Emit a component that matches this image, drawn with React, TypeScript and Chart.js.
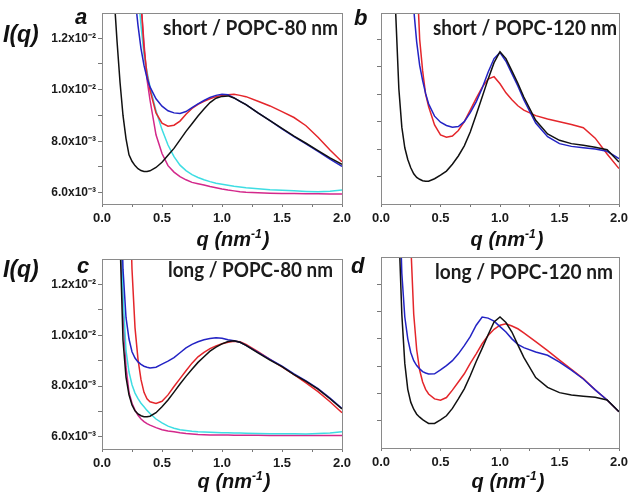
import React, { useEffect, useRef } from "react";
import { Chart, registerables } from "chart.js";

Chart.register(...registerables);

// scattering vector q (nm^-1)
const qValues = [
  0.1, 0.125, 0.15, 0.175, 0.2, 0.225, 0.25, 0.275, 0.3, 0.325, 0.35, 0.375, 0.4,
  0.45, 0.5, 0.55, 0.6, 0.65, 0.7, 0.75, 0.8, 0.85, 0.9, 0.95, 1.0, 1.05, 1.1, 1.15,
  1.2, 1.3, 1.4, 1.5, 1.6, 1.7, 1.8, 1.9, 2.0,
];

// I(q) in units of 10^-3 (null = no data shown)
// panel a: short / POPC-80 nm
const aBlack = [13.7, 11.9, 10.3, 9.0, 8.1, 7.47, 7.22, 7.05, 6.93, 6.86, 6.82, 6.82, 6.85,
  6.98, 7.18, 7.45, 7.72, 8.05, 8.38, 8.68, 8.98, 9.25, 9.5, 9.67, 9.74, 9.76, 9.68, 9.55,
  9.42, 9.1, 8.8, 8.5, 8.2, 7.92, 7.63, 7.35, 7.1];
const aBlue = [null, null, null, null, null, null, 15.5, 13.6, 12.5, 11.6, 10.95, 10.45, 10.11,
  9.65, 9.36, 9.18, 9.1, 9.08, 9.15, 9.3, 9.45, 9.58, 9.7, 9.78, 9.82, 9.8, 9.68, 9.55,
  9.42, 9.1, 8.8, 8.48, 8.18, 7.9, 7.6, 7.3, 7.02];
const aRed = [null, null, null, null, null, null, null, null, 15.5, 13.4, 11.6, 10.6, 9.99,
  9.1, 8.7, 8.58, 8.62, 8.78, 9.05, 9.27, 9.43, 9.55, 9.65, 9.73, 9.78, 9.8, 9.82, 9.78,
  9.73, 9.55, 9.37, 9.15, 8.92, 8.6, 8.15, 7.66, 7.2];
const aCyan = [null, null, null, null, null, null, null, 15.5, 13.8, 12.5, 11.35, 10.7, 10.11,
  9.18, 8.45, 7.85, 7.4, 7.07, 6.86, 6.7, 6.59, 6.5, 6.43, 6.37, 6.33, 6.29, 6.25, 6.22,
  6.19, 6.15, 6.11, 6.09, 6.07, 6.05, 6.04, 6.06, 6.1];
const aMagenta = [null, null, null, null, null, null, null, null, 15.0, 13.4, 11.8, 10.4, 9.6,
  8.25, 7.52, 7.05, 6.8, 6.62, 6.5, 6.4, 6.35, 6.3, 6.24, 6.19, 6.14, 6.1, 6.07, 6.04,
  6.02, 6.0, 5.98, 5.97, 5.97, 5.96, 5.96, 5.95, 5.95];

// panel b: short / POPC-120 nm
const bBlack = [15.5, 12.8, 10.2, 8.8, 8.05, 7.62, 7.32, 7.1, 6.97, 6.9, 6.85, 6.83, 6.83,
  6.92, 7.05, 7.2, 7.45, 7.75, 8.12, 8.62, 9.25, 9.9, 10.55, 11.15, 11.55, 11.3, 10.85, 10.4,
  9.9, 9.05, 8.55, 8.32, 8.2, 8.14, 8.07, 7.98, 7.53];
const bBlue = [null, null, null, null, null, null, 15.0, 13.1, 11.9, 11.05, 10.5, 10.02, 9.65,
  9.2, 8.98, 8.86, 8.8, 8.82, 9.0, 9.33, 9.72, 10.22, 10.8, 11.3, 11.52, 11.2, 10.75, 10.3,
  9.8, 8.95, 8.45, 8.2, 8.1, 8.05, 8.0, 7.92, 7.65];
const bRed = [null, null, null, null, null, null, null, null, 14.5, 12.0, 10.85, 10.0, 9.55,
  8.88, 8.52, 8.43, 8.48, 8.68, 9.0, 9.42, 9.85, 10.25, 10.55, 10.64, 10.38, 10.05, 9.8, 9.58,
  9.42, 9.22, 9.1, 9.0, 8.9, 8.78, 8.4, 7.82, 7.29];

// panel c: long / POPC-80 nm
const cBlack = [null, 18, 13.8, 9.8, 8.35, 7.65, 7.25, 7.02, 6.9, 6.83, 6.79, 6.79, 6.81,
  6.95, 7.18, 7.45, 7.76, 8.08, 8.38, 8.66, 8.93, 9.15, 9.37, 9.53, 9.66, 9.75, 9.78, 9.72,
  9.6, 9.3, 9.02, 8.76, 8.45, 8.18, 7.88, 7.5, 7.1];
const cBlue = [null, null, 17, 12.6, 10.7, 9.85, 9.35, 9.1, 8.95, 8.85, 8.78, 8.74, 8.71,
  8.74, 8.86, 8.98, 9.12, 9.31, 9.5, 9.64, 9.74, 9.82, 9.87, 9.9, 9.88, 9.82, 9.78, 9.72,
  9.6, 9.32, 9.05, 8.78, 8.48, 8.2, 7.9, 7.52, 7.12];
const cRed = [null, null, null, null, null, 16.5, 12.6, 10.3, 9.05, 8.25, 7.75, 7.5, 7.38,
  7.31, 7.4, 7.65, 7.98, 8.29, 8.6, 8.9, 9.15, 9.32, 9.47, 9.58, 9.66, 9.72, 9.76, 9.74,
  9.64, 9.35, 9.05, 8.75, 8.45, 8.12, 7.78, 7.38, 6.95];
const cCyan = [null, null, 16, 11.6, 9.4, 8.55, 8.05, 7.72, 7.5, 7.32, 7.18, 7.04, 6.92,
  6.7, 6.55, 6.42, 6.34, 6.28, 6.25, 6.22, 6.2, 6.19, 6.18, 6.17, 6.16, 6.16, 6.15, 6.15,
  6.14, 6.13, 6.12, 6.12, 6.12, 6.11, 6.13, 6.15, 6.2];
const cMagenta = [null, null, 14.5, 11.0, 8.75, 7.75, 7.32, 7.05, 6.85, 6.7, 6.6, 6.52, 6.46,
  6.36, 6.28, 6.23, 6.2, 6.16, 6.13, 6.11, 6.09, 6.08, 6.07, 6.07, 6.07, 6.07, 6.06, 6.06,
  6.06, 6.06, 6.05, 6.05, 6.05, 6.05, 6.05, 6.05, 6.05];

// panel d: long / POPC-120 nm
const dBlack = [null, 18, 14.0, 10.9, 9.1, 8.15, 7.68, 7.42, 7.24, 7.13, 7.04, 6.97, 6.9,
  6.9, 7.03, 7.18, 7.45, 7.8, 8.17, 8.65, 9.17, 9.65, 10.15, 10.62, 10.8, 10.6, 10.25, 9.78,
  9.32, 8.58, 8.22, 8.03, 7.94, 7.9, 7.86, 7.76, 7.33];
const dBlue = [null, null, 16, 12.4, 10.8, 10.0, 9.5, 9.2, 9.02, 8.9, 8.8, 8.75, 8.71,
  8.72, 8.86, 9.02, 9.2, 9.45, 9.75, 10.08, 10.5, 10.8, 10.76, 10.65, 10.45, 10.25, 10.0, 9.8,
  9.68, 9.52, 9.4, 9.15, 8.85, 8.53, 8.13, 7.76, 7.33];
const dRed = [null, null, null, null, null, 17, 13.5, 10.9, 9.6, 8.85, 8.42, 8.15, 7.98,
  7.8, 7.75, 7.85, 8.12, 8.42, 8.72, 9.1, 9.45, 9.82, 10.12, 10.35, 10.5, 10.55, 10.47, 10.37,
  10.22, 9.9, 9.57, 9.22, 8.88, 8.54, 8.13, 7.76, 7.33];

const xTickValues = [0, 0.25, 0.5, 0.75, 1.0, 1.25, 1.5, 1.75, 2.0];
const xTickLabels = ["0.0", "", "0.5", "", "1.0", "", "1.5", "", "2.0"];
const yTickValues = [6, 7, 8, 9, 10, 11, 12];
const yTickLabels = ["6.0x10⁻³", "", "8.0x10⁻³", "", "1.0x10⁻²", "", "1.2x10⁻²"];
const yTickValuesRight = [7, 8, 9, 10, 11, 12];

const COLORS = {
  black: "#111111",
  blue: "#2323c4",
  red: "#e4262b",
  cyan: "#3edde3",
  magenta: "#d3288b",
};

const W = 629;
const H = 501;
const SANS = '"Liberation Sans", Arial, sans-serif';

type Series = { values: (number | null)[]; color: string };
type Panel = {
  key: string;
  letter: string;
  letterX: number;
  letterY: number;
  title: string;
  titleX: number;
  titleY: number;
  titleW: number;
  xTitleCx: number;
  xTitleY: number;
  yTitle: boolean;
  yTitleX: number;
  yTitleY: number;
  area: { left: number; right: number; top: number; bottom: number };
  yMin: number;
  yMax: number;
  yTicks: number[];
  yLabels: string[] | null;
  series: Series[];
};

const panels: Panel[] = [
  {
    key: "a", letter: "a", letterX: 75, letterY: 24,
    title: "short / POPC-80 nm", titleX: 163, titleY: 35, titleW: 175,
    xTitleCx: 233, xTitleY: 246, yTitle: true, yTitleX: 3, yTitleY: 42,
    area: { left: 102, right: 342, top: 13, bottom: 204 },
    yMin: 5.56, yMax: 12.98, yTicks: yTickValues, yLabels: yTickLabels,
    series: [
      { values: aBlack, color: COLORS.black },
      { values: aBlue, color: COLORS.blue },
      { values: aRed, color: COLORS.red },
      { values: aCyan, color: COLORS.cyan },
      { values: aMagenta, color: COLORS.magenta },
    ],
  },
  {
    key: "b", letter: "b", letterX: 354, letterY: 25,
    title: "short / POPC-120 nm", titleX: 433, titleY: 35, titleW: 184,
    xTitleCx: 507, xTitleY: 246, yTitle: false, yTitleX: 0, yTitleY: 0,
    area: { left: 381, right: 619, top: 13, bottom: 204 },
    yMin: 6.0, yMax: 12.96, yTicks: yTickValuesRight, yLabels: null,
    series: [
      { values: bBlack, color: COLORS.black },
      { values: bBlue, color: COLORS.blue },
      { values: bRed, color: COLORS.red },
    ],
  },
  {
    key: "c", letter: "c", letterX: 77, letterY: 273,
    title: "long / POPC-80 nm", titleX: 168, titleY: 277, titleW: 165,
    xTitleCx: 234, xTitleY: 488, yTitle: true, yTitleX: 3, yTitleY: 277,
    area: { left: 102, right: 342, top: 259, bottom: 449 },
    yMin: 5.52, yMax: 13.0, yTicks: yTickValues, yLabels: yTickLabels,
    series: [
      { values: cBlack, color: COLORS.black },
      { values: cBlue, color: COLORS.blue },
      { values: cRed, color: COLORS.red },
      { values: cCyan, color: COLORS.cyan },
      { values: cMagenta, color: COLORS.magenta },
    ],
  },
  {
    key: "d", letter: "d", letterX: 351, letterY: 273,
    title: "long / POPC-120 nm", titleX: 435, titleY: 279, titleW: 178,
    xTitleCx: 508, xTitleY: 488, yTitle: false, yTitleX: 0, yTitleY: 0,
    area: { left: 381, right: 619, top: 257, bottom: 448 },
    yMin: 6.0, yMax: 13.0, yTicks: yTickValuesRight, yLabels: null,
    series: [
      { values: dBlack, color: COLORS.black },
      { values: dBlue, color: COLORS.blue },
      { values: dRed, color: COLORS.red },
    ],
  },
];

function makePlugin(p: Panel) {
  return {
    id: "panelDecor" + p.key,
    afterDraw(chart: any) {
      const ctx: CanvasRenderingContext2D = chart.ctx;
      const { left, top, right, bottom } = chart.chartArea;
      ctx.save();
      // frame
      ctx.strokeStyle = "#8a8a8a";
      ctx.lineWidth = 1;
      ctx.strokeRect(Math.round(left) + 0.5, Math.round(top) + 0.5, Math.round(right - left), Math.round(bottom - top));

      ctx.fillStyle = "#111";
      ctx.textBaseline = "alphabetic";
      ctx.textAlign = "left";

      // panel letter
      ctx.font = `italic bold 22px ${SANS}`;
      ctx.fillText(p.letter, p.letterX, p.letterY);

      // y title
      if (p.yTitle) {
        ctx.font = `italic bold 23px ${SANS}`;
        ctx.fillText("I(q)", p.yTitleX, p.yTitleY);
      }

      // panel title, fitted to width
      ctx.fillStyle = "#1c1c1c";
      ctx.font = `bold 20px Lato, "Open Sans", sans-serif`;
      const tw = ctx.measureText(p.title).width;
      ctx.save();
      ctx.translate(p.titleX, p.titleY);
      ctx.scale(p.titleW / tw, 1);
      ctx.fillText(p.title, 0, 0);
      ctx.restore();

      // x title q (nm^-1)
      ctx.fillStyle = "#111";
      const big = `italic bold 20px ${SANS}`;
      const small = `italic bold 12px ${SANS}`;
      ctx.font = big;
      const w1 = ctx.measureText("q (nm").width;
      const w3 = ctx.measureText(")").width;
      ctx.font = small;
      const w2 = ctx.measureText("-1").width;
      let x = p.xTitleCx - (w1 + w2 + w3 + 1) / 2;
      ctx.font = big;
      ctx.fillText("q (nm", x, p.xTitleY);
      x += w1;
      ctx.font = small;
      ctx.fillText("-1", x, p.xTitleY - 8);
      x += w2 + 1;
      ctx.font = big;
      ctx.fillText(")", x, p.xTitleY);
      ctx.restore();
    },
  };
}

function makeConfig(p: Panel): any {
  const yAxisW = p.yLabels ? 70 : 10;
  const xAxisH = 30;
  return {
    type: "line",
    data: {
      datasets: p.series.map((s) => ({
        data: qValues
          .map((q, i) => ({ x: q, y: s.values[i] }))
          .filter((pt) => pt.y !== null),
        borderColor: s.color,
        backgroundColor: s.color,
        borderWidth: 1.5,
        pointRadius: 0,
        tension: 0,
        fill: false,
        clip: 0,
      })),
    },
    options: {
      responsive: false,
      maintainAspectRatio: false,
      animation: false,
      events: [],
      layout: {
        padding: {
          left: p.area.left - yAxisW,
          right: W - p.area.right,
          top: p.area.top,
          bottom: H - p.area.bottom - xAxisH,
        },
      },
      plugins: { legend: { display: false }, tooltip: { enabled: false } },
      scales: {
        x: {
          type: "linear",
          min: 0,
          max: 2,
          afterBuildTicks: (s: any) => {
            s.ticks = xTickValues.map((v) => ({ value: v }));
          },
          afterFit: (s: any) => {
            s.height = xAxisH;
            s.paddingLeft = 0;
            s.paddingRight = 0;
          },
          ticks: {
            autoSkip: false,
            maxRotation: 0,
            minRotation: 0,
            padding: 4,
            color: "#1a1a1a",
            font: { family: SANS, size: 13, weight: "bold" },
            callback: (_v: any, i: number) => xTickLabels[i],
          },
          grid: { drawOnChartArea: false, drawTicks: true, tickLength: 3, color: "#777" },
          border: { display: false },
        },
        y: {
          type: "linear",
          min: p.yMin,
          max: p.yMax,
          afterBuildTicks: (s: any) => {
            s.ticks = p.yTicks.map((v) => ({ value: v }));
          },
          afterFit: (s: any) => {
            s.width = yAxisW;
            s.paddingTop = 0;
            s.paddingBottom = 0;
          },
          ticks: {
            autoSkip: false,
            padding: 2,
            color: "#1a1a1a",
            font: { family: SANS, size: 12, weight: "bold" },
            callback: (_v: any, i: number) => (p.yLabels ? p.yLabels[i] : ""),
          },
          grid: { drawOnChartArea: false, drawTicks: true, tickLength: 4, color: "#777" },
          border: { display: false },
        },
      },
    },
    plugins: [makePlugin(p)],
  };
}

function PanelChart({ panel }: { panel: Panel }) {
  const ref = useRef<HTMLCanvasElement>(null);
  useEffect(() => {
    const chart = new Chart(ref.current as HTMLCanvasElement, makeConfig(panel));
    return () => chart.destroy();
  }, [panel]);
  return (
    <canvas
      ref={ref}
      width={W}
      height={H}
      style={{ position: "absolute", left: 0, top: 0, width: W, height: H }}
    />
  );
}

export default function App() {
  return (
    <div
      style={{
        position: "absolute",
        left: 0,
        top: 0,
        width: W,
        height: H,
        background: "#ffffff",
        overflow: "hidden",
      }}
    >
      {panels.map((p) => (
        <PanelChart key={p.key} panel={p} />
      ))}
    </div>
  );
}
